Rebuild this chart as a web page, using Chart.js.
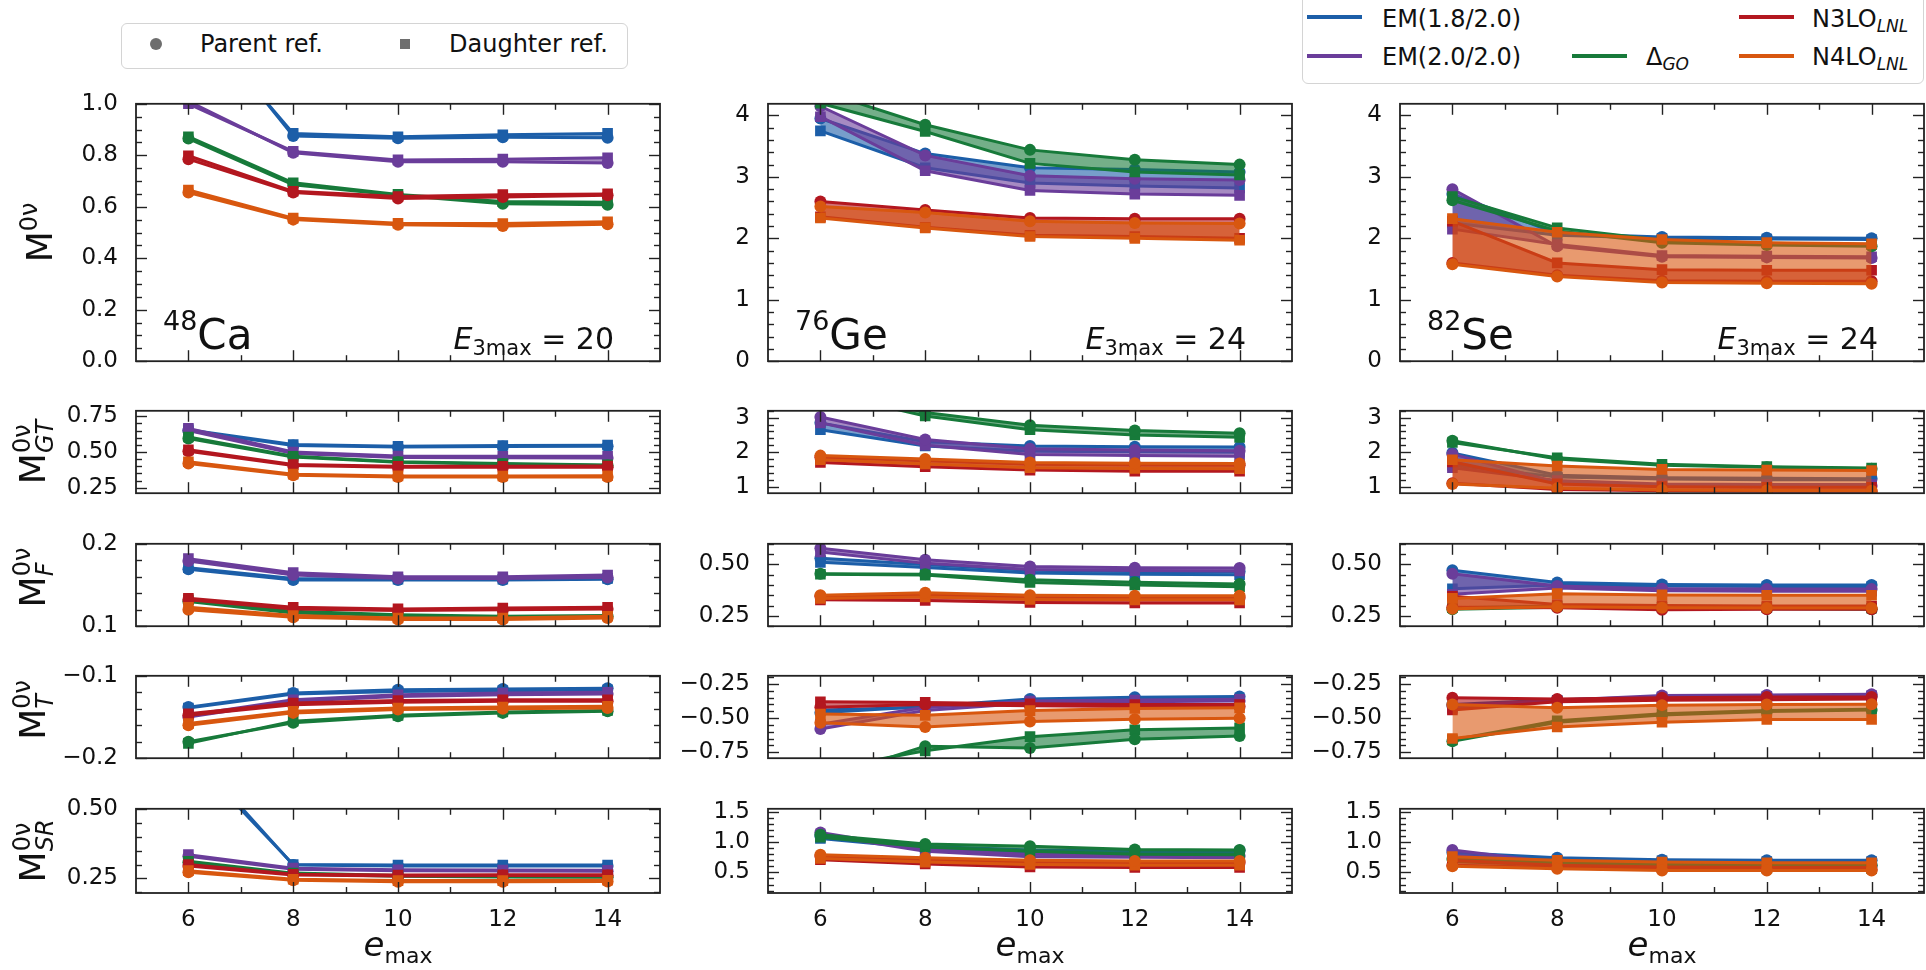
<!DOCTYPE html>
<html>
<head>
<meta charset="utf-8">
<script src="https://cdn.jsdelivr.net/npm/chart.js@4.4.1/dist/chart.umd.min.js"></script>
<style>
  body { margin: 0; width: 1926px; height: 970px; overflow: hidden; position: relative; background: #fff;
         font-family: "DejaVu Sans", sans-serif; color: #111; }
  canvas { position: absolute; }
  .box { position: absolute; border: 1px solid #d4d4d4; border-radius: 6px; background: #fff; }
  .lab { position: absolute; font-size: 24px; line-height: 28px; white-space: nowrap; }
  .lab sub { font-size: 17px; font-style: italic; vertical-align: -5px; line-height: 0; }
  .hnd { position: absolute; width: 55px; height: 4px; }
</style>
</head>
<body>

<div class="box" style="left:121px;top:23px;width:505px;height:44px;"></div>
<div style="position:absolute;left:150px;top:38px;width:12px;height:12px;border-radius:50%;background:#6e6e6e;"></div>
<div class="lab" style="left:200px;top:30px;">Parent ref.</div>
<div style="position:absolute;left:400px;top:39px;width:10px;height:10px;background:#6e6e6e;"></div>
<div class="lab" style="left:449px;top:30px;">Daughter ref.</div>

<div class="box" style="left:1302px;top:-8px;width:620px;height:90px;"></div>
<div class="hnd" style="left:1307px;top:15px;background:#1c5ea8;"></div>
<div class="lab" style="left:1382px;top:5px;">EM(1.8/2.0)</div>
<div class="hnd" style="left:1307px;top:54px;background:#6a3d9a;"></div>
<div class="lab" style="left:1382px;top:43px;">EM(2.0/2.0)</div>
<div class="hnd" style="left:1572px;top:54px;background:#177a3a;"></div>
<div class="lab" style="left:1646px;top:43px;">Δ<sub>GO</sub></div>
<div class="hnd" style="left:1739px;top:15px;background:#b3171f;"></div>
<div class="lab" style="left:1812px;top:5px;">N3LO<sub>LNL</sub></div>
<div class="hnd" style="left:1739px;top:54px;background:#d8570f;"></div>
<div class="lab" style="left:1812px;top:43px;">N4LO<sub>LNL</sub></div>

<script>
// e_max values
const emax = [6, 8, 10, 12, 14];
// series order: EM(1.8/2.0), EM(2.0/2.0), Delta_GO, N3LO_LNL, N4LO_LNL
const models = ['EM(1.8/2.0)', 'EM(2.0/2.0)', 'ΔGO', 'N3LO', 'N4LO'];
const colors = ['#1c5ea8', '#6a3d9a', '#177a3a', '#b3171f', '#d8570f'];
const fills = ['rgba(28,94,168,0.6)', 'rgba(106,61,154,0.6)', 'rgba(23,122,58,0.6)',
               'rgba(179,23,31,0.6)', 'rgba(216,87,15,0.6)'];

// ---- 48Ca ----
const ca48_M_parent = [[1.38, 0.875, 0.866, 0.870, 0.868], [1.01, 0.810, 0.775, 0.775, 0.770],
  [0.865, 0.685, 0.645, 0.612, 0.608], [0.785, 0.655, 0.632, 0.638, 0.645], [0.655, 0.550, 0.530, 0.525, 0.532]];
const ca48_M_daughter = [[1.36, 0.885, 0.872, 0.880, 0.885], [1.00, 0.815, 0.782, 0.785, 0.790],
  [0.872, 0.693, 0.648, 0.620, 0.618], [0.798, 0.660, 0.640, 0.647, 0.650], [0.665, 0.556, 0.536, 0.535, 0.542]];
const ca48_GT_parent = [[0.650, 0.545, 0.535, 0.538, 0.540], [0.650, 0.490, 0.462, 0.460, 0.458],
  [0.595, 0.465, 0.428, 0.415, 0.405], [0.505, 0.405, 0.393, 0.393, 0.393], [0.420, 0.338, 0.326, 0.325, 0.326]];
const ca48_GT_daughter = [[0.655, 0.552, 0.540, 0.545, 0.548], [0.665, 0.500, 0.472, 0.470, 0.470],
  [0.605, 0.470, 0.432, 0.420, 0.410], [0.515, 0.412, 0.400, 0.400, 0.402], [0.432, 0.345, 0.333, 0.332, 0.334]];
const ca48_F_parent = [[0.169, 0.156, 0.156, 0.156, 0.157], [0.179, 0.162, 0.158, 0.158, 0.159],
  [0.130, 0.116, 0.113, 0.111, 0.112], [0.132, 0.121, 0.119, 0.120, 0.121], [0.120, 0.111, 0.108, 0.108, 0.110]];
const ca48_F_daughter = [[0.171, 0.158, 0.157, 0.157, 0.158], [0.182, 0.165, 0.160, 0.160, 0.162],
  [0.132, 0.118, 0.114, 0.112, 0.113], [0.134, 0.123, 0.121, 0.122, 0.123], [0.123, 0.113, 0.110, 0.110, 0.112]];
const ca48_T_parent = [[-0.138, -0.121, -0.117, -0.116, -0.115], [-0.150, -0.131, -0.125, -0.123, -0.122],
  [-0.180, -0.157, -0.149, -0.145, -0.143], [-0.148, -0.135, -0.132, -0.131, -0.131], [-0.160, -0.145, -0.141, -0.140, -0.139]];
const ca48_T_daughter = [[-0.139, -0.122, -0.119, -0.118, -0.117], [-0.148, -0.129, -0.123, -0.121, -0.120],
  [-0.182, -0.155, -0.148, -0.144, -0.142], [-0.146, -0.133, -0.130, -0.129, -0.129], [-0.158, -0.143, -0.139, -0.138, -0.137]];
const ca48_SR_parent = [[0.72, 0.298, 0.295, 0.295, 0.295], [0.330, 0.283, 0.278, 0.277, 0.276],
  [0.308, 0.266, 0.258, 0.255, 0.254], [0.295, 0.262, 0.259, 0.260, 0.260], [0.272, 0.243, 0.238, 0.238, 0.239]];
const ca48_SR_daughter = [[0.70, 0.300, 0.298, 0.298, 0.298], [0.336, 0.287, 0.281, 0.280, 0.279],
  [0.312, 0.269, 0.260, 0.257, 0.256], [0.300, 0.265, 0.262, 0.263, 0.263], [0.278, 0.247, 0.242, 0.242, 0.243]];

// ---- 76Ge ----
const ge76_M_parent = [[3.95, 3.38, 3.15, 3.12, 3.08], [4.15, 3.35, 3.02, 2.97, 2.95],
  [4.40, 3.85, 3.44, 3.28, 3.20], [2.60, 2.46, 2.33, 2.32, 2.32], [2.52, 2.42, 2.28, 2.25, 2.24]];
const ge76_M_daughter = [[3.75, 3.15, 2.90, 2.85, 2.82], [3.98, 3.10, 2.78, 2.72, 2.70],
  [4.20, 3.74, 3.22, 3.08, 3.03], [2.35, 2.18, 2.05, 2.03, 2.00], [2.33, 2.17, 2.03, 2.00, 1.97]];
const ge76_GT_parent = [[2.85, 2.30, 2.18, 2.16, 2.15], [3.02, 2.37, 2.10, 2.06, 2.04],
  [3.90, 3.15, 2.78, 2.63, 2.55], [1.85, 1.75, 1.65, 1.63, 1.62], [1.90, 1.80, 1.70, 1.68, 1.67]];
const ge76_GT_daughter = [[2.65, 2.18, 2.03, 2.01, 2.00], [2.85, 2.20, 1.93, 1.90, 1.88],
  [3.75, 3.05, 2.65, 2.50, 2.43], [1.70, 1.58, 1.48, 1.45, 1.45], [1.78, 1.66, 1.55, 1.53, 1.52]];
const ge76_F_parent = [[0.530, 0.500, 0.472, 0.466, 0.465], [0.578, 0.523, 0.490, 0.484, 0.482],
  [0.455, 0.452, 0.425, 0.413, 0.405], [0.345, 0.352, 0.340, 0.338, 0.338], [0.350, 0.362, 0.350, 0.348, 0.348]];
const ge76_F_daughter = [[0.510, 0.485, 0.458, 0.452, 0.450], [0.560, 0.505, 0.475, 0.470, 0.468],
  [0.452, 0.448, 0.412, 0.400, 0.392], [0.328, 0.325, 0.315, 0.313, 0.313], [0.335, 0.342, 0.330, 0.328, 0.328]];
const ge76_T_parent = [[-0.46, -0.415, -0.36, -0.348, -0.342], [-0.580, -0.445, -0.390, -0.380, -0.375],
  [-0.95, -0.706, -0.720, -0.655, -0.632], [-0.42, -0.40, -0.41, -0.415, -0.415], [-0.535, -0.565, -0.525, -0.508, -0.502]];
const ge76_T_daughter = [[-0.44, -0.42, -0.375, -0.365, -0.36], [-0.545, -0.420, -0.375, -0.368, -0.362],
  [-0.88, -0.740, -0.636, -0.585, -0.572], [-0.38, -0.385, -0.395, -0.40, -0.40], [-0.470, -0.480, -0.445, -0.430, -0.425]];
const ge76_SR_parent = [[1.10, 0.93, 0.87, 0.86, 0.86], [1.16, 0.88, 0.80, 0.78, 0.77],
  [1.12, 0.97, 0.93, 0.88, 0.87], [0.77, 0.71, 0.67, 0.66, 0.66], [0.79, 0.74, 0.70, 0.69, 0.69]];
const ge76_SR_daughter = [[1.06, 0.90, 0.83, 0.82, 0.82], [1.12, 0.85, 0.76, 0.75, 0.74],
  [1.08, 0.92, 0.85, 0.80, 0.79], [0.71, 0.64, 0.59, 0.58, 0.58], [0.73, 0.67, 0.63, 0.62, 0.62]];

// ---- 82Se ----
const se82_M_parent = [[2.72, 2.08, 2.02, 2.01, 2.00], [2.80, 1.87, 1.70, 1.69, 1.68],
  [2.62, 2.12, 1.93, 1.89, 1.87], [1.60, 1.40, 1.31, 1.30, 1.30], [1.58, 1.38, 1.28, 1.27, 1.26]];
const se82_M_daughter = [[2.25, 2.05, 2.00, 1.99, 1.98], [2.15, 1.90, 1.72, 1.71, 1.70],
  [2.68, 2.17, 1.97, 1.92, 1.90], [2.28, 1.60, 1.49, 1.48, 1.48], [2.32, 2.10, 1.98, 1.93, 1.91]];
const se82_GT_parent = [[1.98, 1.33, 1.26, 1.24, 1.23], [1.95, 1.12, 1.03, 1.02, 1.02],
  [2.33, 1.80, 1.62, 1.56, 1.52], [1.10, 0.92, 0.88, 0.87, 0.87], [1.08, 0.95, 0.90, 0.89, 0.88]];
const se82_GT_daughter = [[1.62, 1.28, 1.22, 1.20, 1.20], [1.55, 1.18, 1.08, 1.06, 1.06],
  [2.28, 1.84, 1.65, 1.58, 1.54], [1.72, 1.08, 1.00, 0.98, 0.98], [1.78, 1.60, 1.50, 1.48, 1.47]];
const se82_F_parent = [[0.472, 0.412, 0.403, 0.400, 0.400], [0.455, 0.395, 0.382, 0.380, 0.380],
  [0.282, 0.292, 0.288, 0.285, 0.282], [0.292, 0.290, 0.280, 0.282, 0.282], [0.285, 0.295, 0.290, 0.288, 0.288]];
const se82_F_daughter = [[0.382, 0.400, 0.395, 0.393, 0.393], [0.355, 0.385, 0.372, 0.370, 0.370],
  [0.290, 0.298, 0.292, 0.290, 0.287], [0.345, 0.305, 0.300, 0.298, 0.298], [0.335, 0.358, 0.352, 0.350, 0.350]];
const se82_T_parent = [[-0.40, -0.365, -0.345, -0.340, -0.338], [-0.41, -0.37, -0.335, -0.330, -0.325],
  [-0.670, -0.530, -0.478, -0.452, -0.440], [-0.35, -0.36, -0.35, -0.345, -0.345], [-0.400, -0.425, -0.405, -0.400, -0.398]];
const se82_T_daughter = [[-0.42, -0.370, -0.350, -0.345, -0.342], [-0.43, -0.375, -0.345, -0.340, -0.335],
  [-0.660, -0.520, -0.468, -0.445, -0.435], [-0.44, -0.38, -0.37, -0.365, -0.36], [-0.650, -0.565, -0.530, -0.510, -0.510]];
const se82_SR_parent = [[0.83, 0.74, 0.71, 0.70, 0.70], [0.87, 0.66, 0.63, 0.62, 0.61],
  [0.72, 0.66, 0.63, 0.62, 0.62], [0.62, 0.58, 0.56, 0.55, 0.55], [0.60, 0.56, 0.53, 0.53, 0.53]];
const se82_SR_daughter = [[0.78, 0.71, 0.69, 0.68, 0.68], [0.78, 0.63, 0.60, 0.59, 0.58],
  [0.68, 0.62, 0.58, 0.57, 0.56], [0.70, 0.62, 0.59, 0.58, 0.58], [0.76, 0.70, 0.67, 0.66, 0.66]];

// y axes: rows M, GT, F, T, SR ; columns Ca, Ge, Se
const yAxes = [
  [{ min: 0, max: 1.0, major: [0, 0.2, 0.4, 0.6, 0.8, 1.0], minor: 0.05, dec: 1 },
   { min: 0, max: 4.19, major: [0, 1, 2, 3, 4], minor: 0.2, dec: 0 },
   { min: 0, max: 4.19, major: [0, 1, 2, 3, 4], minor: 0.2, dec: 0 }],
  [{ min: 0.212, max: 0.788, major: [0.25, 0.5, 0.75], minor: 0.05, dec: 2 },
   { min: 0.81, max: 3.2, major: [1, 2, 3], minor: 0.2, dec: 0 },
   { min: 0.81, max: 3.2, major: [1, 2, 3], minor: 0.2, dec: 0 }],
  [{ min: 0.1, max: 0.2, major: [0.1, 0.2], minor: 0.02, dec: 1 },
   { min: 0.2, max: 0.6, major: [0.25, 0.5], minor: 0.05, dec: 2 },
   { min: 0.2, max: 0.6, major: [0.25, 0.5], minor: 0.05, dec: 2 }],
  [{ min: -0.2, max: -0.1, major: [-0.2, -0.1], minor: 0.02, dec: 1 },
   { min: -0.794, max: -0.19, major: [-0.75, -0.5, -0.25], minor: 0.05, dec: 2 },
   { min: -0.794, max: -0.19, major: [-0.75, -0.5, -0.25], minor: 0.05, dec: 2 }],
  [{ min: 0.197, max: 0.502, major: [0.25, 0.5], minor: 0.05, dec: 2 },
   { min: 0.16, max: 1.55, major: [0.5, 1.0, 1.5], minor: 0.1, dec: 1 },
   { min: 0.16, max: 1.55, major: [0.5, 1.0, 1.5], minor: 0.1, dec: 1 }]
];

const panelData = [
  [[ca48_M_parent, ca48_M_daughter], [ge76_M_parent, ge76_M_daughter], [se82_M_parent, se82_M_daughter]],
  [[ca48_GT_parent, ca48_GT_daughter], [ge76_GT_parent, ge76_GT_daughter], [se82_GT_parent, se82_GT_daughter]],
  [[ca48_F_parent, ca48_F_daughter], [ge76_F_parent, ge76_F_daughter], [se82_F_parent, se82_F_daughter]],
  [[ca48_T_parent, ca48_T_daughter], [ge76_T_parent, ge76_T_daughter], [se82_T_parent, se82_T_daughter]],
  [[ca48_SR_parent, ca48_SR_daughter], [ge76_SR_parent, ge76_SR_daughter], [se82_SR_parent, se82_SR_daughter]]
];

const nuclei = [['48', 'Ca', '20'], ['76', 'Ge', '24'], ['82', 'Se', '24']];
const opSubs = [null, 'GT', 'F', 'T', 'SR'];

// layout of the plot boxes (px)
const colLeft = [136, 768, 1400];
const plotW = 524;
const rowTop = [102, 409, 542, 674, 807];
const rowH = [261, 86, 86, 86, 86];

const FONT = 'DejaVu Sans';

function fmt(v, dec) {
  const s = Math.abs(v).toFixed(dec);
  return v < -1e-9 ? '\u2212' + s : s;
}

// draws a list of text pieces one after another, p.adv === 0 means no advance (stacked sup)
function drawRich(ctx, parts, x, y, align) {
  let w = 0;
  parts.forEach(p => {
    ctx.font = (p.italic ? 'italic ' : '') + p.size + 'px "' + FONT + '"';
    p.w = ctx.measureText(p.t).width;
    if (p.adv !== 0) w += p.w;
  });
  let cx = align === 'center' ? x - w / 2 : align === 'right' ? x - w : x;
  ctx.textAlign = 'left';
  ctx.textBaseline = 'alphabetic';
  parts.forEach(p => {
    ctx.font = (p.italic ? 'italic ' : '') + p.size + 'px "' + FONT + '"';
    ctx.fillText(p.t, cx, y + (p.dy || 0));
    if (p.adv !== 0) cx += p.w;
  });
}

function makePanel(row, col) {
  const pd = panelData[row][col];
  const yc = yAxes[row][col];
  const last = row === 4;
  const padL = 130, padR = 8, padT = 22, padB = last ? 78 : 22;
  const W = plotW + padL + padR, H = rowH[row] + padT + padB;

  const cv = document.createElement('canvas');
  cv.width = W; cv.height = H;
  cv.style.width = W + 'px'; cv.style.height = H + 'px';
  cv.style.left = (colLeft[col] - padL) + 'px';
  cv.style.top = (rowTop[row] - padT) + 'px';
  document.body.appendChild(cv);

  const datasets = [];
  for (let m = 0; m < 5; m++) {
    const c = colors[m];
    datasets.push({
      label: models[m] + ' parent',
      data: emax.map((x, i) => ({ x: x, y: pd[0][m][i] })),
      borderColor: c, backgroundColor: c, borderWidth: 3,
      pointStyle: 'circle', pointRadius: 6, pointBorderWidth: 0, pointBackgroundColor: c,
      fill: false, order: 4 - m
    });
    datasets.push({
      label: models[m] + ' daughter',
      data: emax.map((x, i) => ({ x: x, y: pd[1][m][i] })),
      borderColor: c, backgroundColor: fills[m], borderWidth: 3,
      pointStyle: 'rect', pointRadius: 7.5, pointBorderWidth: 0, pointBackgroundColor: c,
      fill: '-1', order: 4 - m
    });
  }

  const frame = {
    id: 'frame' + row + col,
    afterDatasetsDraw(chart) {
      const ctx = chart.ctx, a = chart.chartArea;
      const xs = chart.scales.x, ys = chart.scales.y;
      ctx.save();
      ctx.strokeStyle = '#222';
      ctx.lineWidth = 1.4;
      const seg = (x1, y1, x2, y2) => { ctx.beginPath(); ctx.moveTo(x1, y1); ctx.lineTo(x2, y2); ctx.stroke(); };
      for (let v = 6; v <= 14; v++) {
        const px = Math.round(xs.getPixelForValue(v)) + 0.5;
        const len = v % 2 === 0 ? 11 : 6;
        seg(px, a.bottom, px, a.bottom - len);
        seg(px, a.top, px, a.top + len);
      }
      const k0 = Math.ceil(yc.min / yc.minor - 1e-6);
      for (let k = k0; k * yc.minor <= yc.max + 1e-9; k++) {
        const v = k * yc.minor;
        const major = yc.major.some(mv => Math.abs(mv - v) < 1e-6);
        const py = Math.round(ys.getPixelForValue(v)) + 0.5;
        const len = major ? 11 : 6;
        seg(a.left, py, a.left + len, py);
        seg(a.right, py, a.right - len, py);
      }
      ctx.lineWidth = 1.8;
      ctx.strokeRect(a.left, a.top, a.right - a.left, a.bottom - a.top);

      ctx.fillStyle = '#111';
      if (row === 0) {
        const n = nuclei[col];
        drawRich(ctx, [{ t: n[0], size: 27, dy: -19 }, { t: n[1], size: 42 }], a.left + 27, a.top + 245, 'left');
        drawRich(ctx, [{ t: 'E', size: 30, italic: true }, { t: '3max', size: 21, dy: 6 }, { t: ' = ' + n[2], size: 30 }],
          a.right - 46, a.top + 245, 'right');
      }
      if (col === 0) {
        const parts = [{ t: 'M', size: 36 }];
        if (opSubs[row]) {
          parts.push({ t: '0\u03bd', size: 24, dy: -15, adv: 0 });
          parts.push({ t: opSubs[row], size: 24, italic: true, dy: 8 });
        } else {
          parts.push({ t: '0\u03bd', size: 24, dy: -15 });
        }
        ctx.save();
        ctx.translate(row === 0 ? a.left - 84 : a.left - 91, (a.top + a.bottom) / 2);
        ctx.rotate(-Math.PI / 2);
        drawRich(ctx, parts, 0, 0, 'center');
        ctx.restore();
      }
      if (last) {
        drawRich(ctx, [{ t: 'e', size: 34, italic: true }, { t: 'max', size: 22, dy: 7 }],
          (a.left + a.right) / 2, a.bottom + 63, 'center');
      }
      ctx.restore();
    }
  };

  new Chart(cv, {
    type: 'line',
    data: { datasets: datasets },
    options: {
      responsive: false,
      animation: false,
      devicePixelRatio: 1,
      events: [],
      layout: { padding: { top: padT, right: padR, left: 0, bottom: 0 } },
      plugins: { legend: { display: false }, tooltip: { enabled: false } },
      scales: {
        x: {
          type: 'linear', min: 5, max: 15,
          grid: { display: false }, border: { display: false },
          afterBuildTicks: s => { s.ticks = emax.map(v => ({ value: v })); },
          afterFit: s => { s.height = padB; },
          ticks: { display: last, padding: 5, maxRotation: 0, color: '#111',
                   font: { family: FONT, size: 23 }, callback: v => String(v) }
        },
        y: {
          type: 'linear', min: yc.min, max: yc.max,
          grid: { display: false }, border: { display: false },
          afterBuildTicks: s => { s.ticks = yc.major.map(v => ({ value: v })); },
          afterFit: s => { s.width = padL; },
          ticks: { padding: 10, color: '#111', font: { family: FONT, size: 23 },
                   callback: v => fmt(v, yc.dec) }
        }
      }
    },
    plugins: [frame]
  });
}

for (let r = 0; r < 5; r++) {
  for (let c = 0; c < 3; c++) makePanel(r, c);
}
</script>
</body>
</html>
